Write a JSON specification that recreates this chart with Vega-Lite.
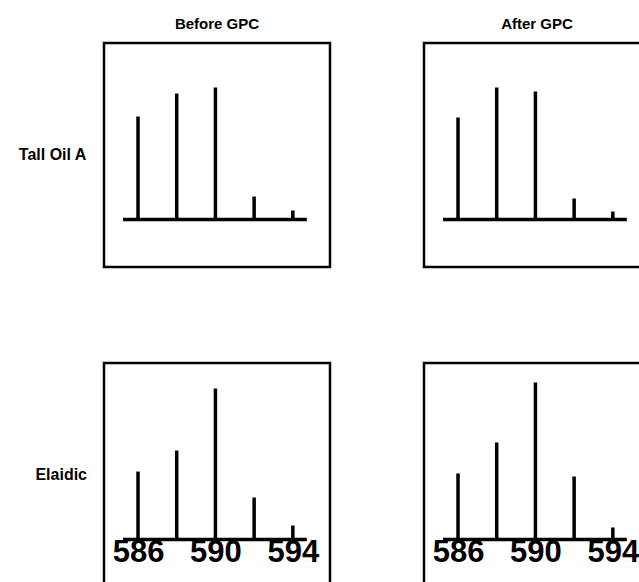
{
  "$schema": "https://vega.github.io/schema/vega-lite/v6.json",
  "padding": {"left": 18, "top": 17, "right": 0, "bottom": 0},
  "background": "white",
  "data": {
    "values": [
      {"sample": "Tall Oil A", "stage": "Before GPC", "mass": 586, "intensity": 68.7},
      {"sample": "Tall Oil A", "stage": "Before GPC", "mass": 588, "intensity": 84},
      {"sample": "Tall Oil A", "stage": "Before GPC", "mass": 590, "intensity": 88},
      {"sample": "Tall Oil A", "stage": "Before GPC", "mass": 592, "intensity": 15.3},
      {"sample": "Tall Oil A", "stage": "Before GPC", "mass": 594, "intensity": 6},
      {"sample": "Tall Oil A", "stage": "After GPC", "mass": 586, "intensity": 68},
      {"sample": "Tall Oil A", "stage": "After GPC", "mass": 588, "intensity": 88},
      {"sample": "Tall Oil A", "stage": "After GPC", "mass": 590, "intensity": 85.3},
      {"sample": "Tall Oil A", "stage": "After GPC", "mass": 592, "intensity": 14},
      {"sample": "Tall Oil A", "stage": "After GPC", "mass": 594, "intensity": 5.3},
      {"sample": "Elaidic", "stage": "Before GPC", "mass": 586, "intensity": 45.3},
      {"sample": "Elaidic", "stage": "Before GPC", "mass": 588, "intensity": 59.3},
      {"sample": "Elaidic", "stage": "Before GPC", "mass": 590, "intensity": 100.7},
      {"sample": "Elaidic", "stage": "Before GPC", "mass": 592, "intensity": 28},
      {"sample": "Elaidic", "stage": "Before GPC", "mass": 594, "intensity": 9.3},
      {"sample": "Elaidic", "stage": "After GPC", "mass": 586, "intensity": 44},
      {"sample": "Elaidic", "stage": "After GPC", "mass": 588, "intensity": 64.7},
      {"sample": "Elaidic", "stage": "After GPC", "mass": 590, "intensity": 104.7},
      {"sample": "Elaidic", "stage": "After GPC", "mass": 592, "intensity": 42},
      {"sample": "Elaidic", "stage": "After GPC", "mass": 594, "intensity": 8}
    ]
  },
  "facet": {
    "row": {
      "field": "sample", "type": "nominal", "sort": ["Tall Oil A", "Elaidic"],
      "header": {"title": null, "labelAngle": 0, "labelAlign": "left", "labelFont": "Liberation Sans", "labelFontSize": 16, "labelFontWeight": "bold", "labelColor": "black", "labelPadding": 15}
    },
    "column": {
      "field": "stage", "type": "nominal", "sort": ["Before GPC", "After GPC"],
      "header": {"title": null, "labelFont": "Liberation Sans", "labelFontSize": 15, "labelFontWeight": "bold", "labelColor": "black", "labelPadding": 9}
    }
  },
  "spacing": {"row": 92, "column": 90},
  "spec": {
    "width": 226,
    "height": 224,
    "layer": [
      {
        "mark": {"type": "rule", "color": "black", "strokeWidth": 3.5},
        "encoding": {
          "x": {
            "field": "mass", "type": "quantitative",
            "scale": {"domain": [584.243, 595.92], "nice": false, "zero": false},
            "axis": {
              "orient": "bottom", "offset": -47.5, "values": [586, 590, 594],
              "domain": false, "ticks": false, "grid": false, "title": null,
              "labelFont": "Liberation Sans", "labelFontSize": 31, "labelFontWeight": "bold",
              "labelColor": "black", "labelPadding": -4, "labelFlush": false, "labelOverlap": false
            }
          },
          "y": {
            "field": "intensity", "type": "quantitative",
            "scale": {"domain": [-31.7, 117.7], "nice": false, "zero": false},
            "axis": null
          },
          "y2": {"datum": 0}
        }
      },
      {
        "mark": {"type": "rule", "color": "black", "strokeWidth": 3.5, "xOffset": -15, "x2Offset": 14},
        "encoding": {
          "x": {"aggregate": "min", "field": "mass", "type": "quantitative"},
          "x2": {"aggregate": "max", "field": "mass"},
          "y": {"datum": 0, "type": "quantitative"}
        }
      }
    ]
  },
  "config": {
    "view": {"stroke": "black", "strokeWidth": 2.5},
    "axis": {"grid": false}
  }
}
